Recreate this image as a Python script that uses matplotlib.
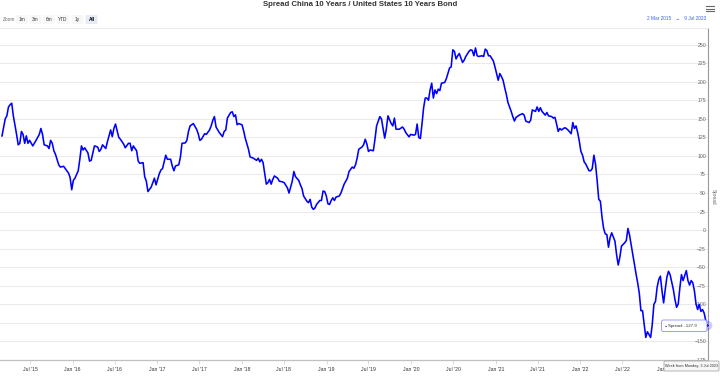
import matplotlib
matplotlib.use('Agg')
import matplotlib.pyplot as plt
import matplotlib.dates as mdates
from matplotlib.patches import FancyBboxPatch
from matplotlib.lines import Line2D
from matplotlib.transforms import IdentityTransform
import numpy as np
import pandas as pd

plt.rcParams['font.family'] = ['Liberation Sans', 'DejaVu Sans']

# weekly series, week index counted from Monday 2 Mar 2015
start_date = '2015-03-02'
weeks = [
    0, 2, 3, 4, 5, 6, 7, 9, 10, 11, 12, 13, 14, 15, 16, 17, 19, 21, 23, 24, 25, 26, 28, 29, 30,
    31, 32, 33, 35, 36, 38, 39, 41, 42, 43, 44, 45, 47, 48, 49, 50, 51, 53, 54, 55, 57, 59, 60, 61, 62,
    64, 65, 67, 68, 69, 70, 72, 73, 75, 76, 78, 79, 80, 81, 83, 84, 85, 87, 88,
    89, 90, 92, 93, 94, 95, 97, 98, 99, 101, 102, 104, 105, 106, 107, 109, 110, 111, 113, 114, 115, 116,
    118, 120, 121, 122, 123, 125, 126, 128, 129, 130, 131, 132, 134, 136, 137, 138, 139, 141, 142, 143,
    144, 145, 146, 148, 149, 150, 152, 153, 155, 157, 158, 159, 160, 161, 162, 163, 164, 165, 166, 167,
    168, 170, 171, 173, 174,
    176, 177, 179, 180, 181, 183, 184, 185, 186, 188, 189, 190, 191, 192, 193, 194, 196, 197, 198, 199,
    200, 201, 202, 203, 204, 205, 206, 208, 209, 211, 213, 214, 216, 217, 218, 219, 220, 222, 223, 224,
    225, 226, 227, 229, 230, 231, 233, 234, 236, 237, 238, 240, 241, 242, 243, 245, 247, 248, 249, 251,
    252, 254, 255, 256, 257, 258, 259, 260, 261,
    262, 263, 264, 265, 266, 267, 268, 269, 270, 271, 273, 274, 276, 277, 278, 279, 280, 281, 282, 284,
    285, 286, 288, 289, 290, 291, 292, 293, 294, 296, 297, 298, 299, 300, 301, 303, 304, 305, 306, 307,
    308, 309, 310, 311, 312, 314, 315, 316, 317, 319, 321, 322, 323, 325, 326, 327, 329, 330, 331, 332,
    333, 335, 336, 337, 339, 340, 341, 342, 343, 344, 345, 347,
    348, 349, 351, 352, 353, 354, 355, 356, 357, 358, 359, 360, 362, 363, 364, 365, 366, 367, 368, 369,
    370, 371, 372, 373, 374, 375, 376, 378, 379, 380, 381, 382, 384, 385, 386, 387, 388, 389, 390, 391,
    392, 393, 394, 395, 396, 397, 398, 400, 401, 402, 403, 404, 405, 406, 407, 408, 409, 410, 411, 412,
    414, 415, 416, 417, 418, 419, 420, 422, 423, 424, 425, 426, 427, 428, 429, 430, 431, 432, 433, 434, 435,
]
spread = [
    127, 150, 154, 166, 169, 171, 154, 129, 115, 117, 133, 129, 117, 127, 117, 121, 113.5, 121, 129, 137, 129, 115, 113.5, 110, 121,
    117, 107, 102, 88, 85, 86, 83, 77, 71, 54.5, 67, 70, 80, 95.5, 113.5, 108, 111, 104, 93, 94, 113.5, 112, 106, 109, 115,
    110, 119, 135, 126, 137, 143, 125, 122.5, 116, 111, 117, 117, 107, 113.5, 107, 93, 90, 91, 72,
    66, 52, 58, 64, 70, 61, 76, 81, 83, 101, 95.5, 95.5, 86.5, 80, 86.5, 88, 98, 117, 117.5, 121, 133, 140.5,
    143.6, 136, 130, 121, 122.5, 130, 129, 135, 140.5, 148, 153, 139, 131.5, 126, 133, 135, 151, 158.5, 159.5, 153,
    155.4, 142, 143.6, 142, 134, 124, 109, 98.6, 97, 94, 97, 92, 95.5, 91, 76, 62, 64, 68.5, 62, 68.5,
    73, 70, 66, 65, 64,
    57, 50, 66, 79, 72, 67, 61, 56, 46, 39, 37, 41.5, 31, 28, 30, 34.7, 40, 40, 52.7, 52,
    46, 35.5, 34.7, 40, 43.6, 40, 44.6, 46, 50, 62, 70, 79, 85, 83.4, 88, 97, 109, 112, 115, 122.5,
    116, 106, 108, 107, 122.5, 140.5, 153, 150, 124, 136, 154, 143.6, 140.5, 151, 136, 136, 139, 136, 131.5, 125.7,
    129, 128, 129, 143, 125, 123.4, 143, 165, 178,
    178, 175, 189, 198, 178, 189, 184, 190, 188, 198, 199, 204, 218.5, 220, 243, 241, 230.7, 235, 238, 226,
    229, 234, 241, 243, 242, 235, 245.5, 235, 234, 235, 234, 244, 242, 235, 235, 228, 220, 211, 202, 211,
    207, 202, 192, 183, 172, 160, 153, 147, 152, 155, 157, 155, 147, 145, 148, 162, 160, 166, 160, 165,
    160, 155, 158.5, 154, 153, 151, 152, 143, 133, 137, 135, 138,
    137, 135, 130, 145, 137, 140.5, 131.5, 120, 106, 101, 92, 89, 80, 80, 83, 101, 89, 67, 41.5, 39,
    17.6, 2.3, -5, -6, -23, -10, -3.6, -15, -33, -47, -36.5, -21.6, -17, -14, 2.3, -6.8, -20, -34, -45.5, -59,
    -71, -85, -108.5, -108.5, -127, -144.6, -137, -144.6, -127, -100, -96, -77, -66.6, -62, -82, -98, -80, -63.5, -55.4, -60,
    -80, -93.6, -104, -99.6, -78, -60, -68, -54.5, -68, -74, -68, -71, -82, -99.6, -107, -100, -109.5, -107, -111.8, -122, -127.9,
]
y_ticks = list(range(-175, 251, 25))
zoom_buttons = ['1m', '3m', '6m', 'YTD', '1y', 'All']
title = 'Spread China 10 Years / United States 10 Years Bond'

dates = pd.Timestamp(start_date) + pd.to_timedelta(np.array(weeks) * 7, unit='D')

W, H = 720, 377
fig = plt.figure(figsize=(7.2, 3.77), dpi=100)
pix = IdentityTransform()


def fx(px):
    return px / W


def fy(py):
    return 1 - py / H


# main plot area
ax = fig.add_axes([0, fy(360), fx(708), fy(28) - fy(360)])
ax.plot(dates, spread, color='#0000ff', lw=1.15, solid_joinstyle='round', zorder=3)
ax.set_xlim(pd.Timestamp('2015-02-21 10:00'), pd.Timestamp('2023-07-05 14:00'))
ax.set_ylim(-175, 272.4)

ax.set_yticks(y_ticks)
ax.yaxis.tick_right()
ax.grid(axis='y', color='#e6e6e6', lw=0.6)
ax.tick_params(axis='y', length=0, pad=-1.5, labelsize=3.7, labelcolor='#666666')
for lbl in ax.get_yticklabels():
    lbl.set_ha('right')

ax.xaxis.set_major_locator(mdates.MonthLocator(bymonth=[1, 7]))
ax.xaxis.set_major_formatter(mdates.DateFormatter("%b '%y"))
ax.tick_params(axis='x', length=3, width=0.6, color='#ccd6eb', labelsize=3.7,
               labelcolor='#333333', pad=2)

ax.spines['left'].set_visible(False)
ax.spines['top'].set_color('#e6e6e6')
ax.spines['top'].set_linewidth(0.6)
ax.spines['bottom'].set_color('#c0c0c0')
ax.spines['bottom'].set_linewidth(0.9)
ax.spines['right'].set_color('#999999')
ax.spines['right'].set_linewidth(0.8)

# last point marker
ax.plot(dates[-1], spread[-1], 'o', ms=7, color='#0000ff', alpha=0.2, mec='none', zorder=4, clip_on=False)
ax.plot(dates[-1], spread[-1], 'o', ms=2.6, color='#0000ff', mec='white', mew=0.4, zorder=5, clip_on=False)

fig.text(fx(713), fy(197), 'Spread', rotation=270, fontsize=3.4, color='#666666', ha='center', va='center')

# title and range selector
fig.text(fx(360), fy(5), title, fontsize=5.6, weight='bold', color='#333333', ha='center', va='center')
fig.text(fx(3), fy(19.5), 'Zoom', fontsize=3.4, color='#666666', ha='left', va='center')
button_x = [22, 35.5, 49, 63, 77.5, 91.5]
for name, cx in zip(zoom_buttons, button_x):
    sel = name == 'All'
    fig.add_artist(FancyBboxPatch((cx - 6, H - 24), 12, 9,
                                  boxstyle='round,pad=0,rounding_size=1.5',
                                  fc='#e6ebf5' if sel else '#f7f7f7', ec='none', transform=pix))
    fig.text(fx(cx), fy(19.5), name, fontsize=3.4, color='#000000' if sel else '#333333',
             weight='bold' if sel else 'normal', ha='center', va='center')

fig.text(fx(706), fy(19), '2 Mar 2015   \u2192   9 Jul 2023', fontsize=3.4, color='#3d5cf5',
         ha='right', va='center')

for yy in [6, 8.5, 11]:
    fig.add_artist(Line2D([706, 714], [H - yy, H - yy], color='#666666', lw=0.8, transform=pix))

# tooltip
fig.add_artist(FancyBboxPatch((661.5, H - 331.5), 45.5, 11.5, boxstyle='round,pad=0,rounding_size=2',
                              fc='white', ec='#8080ff', lw=0.6, alpha=0.9, transform=pix))
fig.text(fx(665.5), fy(325.8), '\u25cf', fontsize=2.4, color='#0000ff', ha='center', va='center')
fig.text(fx(668), fy(325.8), 'Spread: -127.9', fontsize=3.2, color='#333333', ha='left', va='center')

fig.add_artist(FancyBboxPatch((664, H - 371), 55, 10, boxstyle='round,pad=0,rounding_size=1',
                              fc='#f7f7f7', ec='#999999', lw=0.5, transform=pix))
fig.text(fx(691.5), fy(366), 'Week from Monday, 3 Jul 2023', fontsize=2.8, color='#333333',
         ha='center', va='center')

fig.savefig('out.png', dpi=100)
